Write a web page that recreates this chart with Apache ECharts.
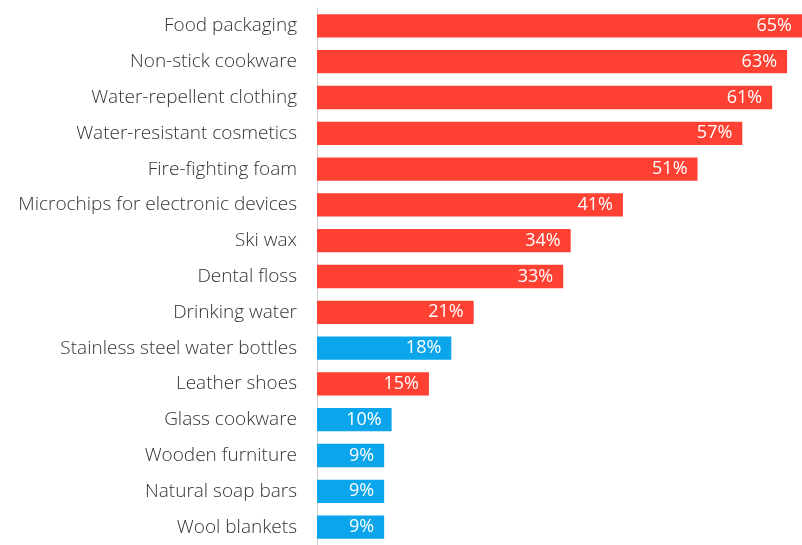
<!DOCTYPE html>
<html>
<head>
<meta charset="utf-8">
<style>
  html, body { margin: 0; padding: 0; background: #ffffff; }
  #chart { width: 802px; height: 545px; }
</style>
<script src="https://cdn.jsdelivr.net/npm/echarts@6/dist/echarts.min.js"></script>
</head>
<body>
<div id="chart"></div>
<script>
// Items people believe contain PFAS, share of respondents (%)
const categories = [
  'Food packaging',
  'Non-stick cookware',
  'Water-repellent clothing',
  'Water-resistant cosmetics',
  'Fire-fighting foam',
  'Microchips for electronic devices',
  'Ski wax',
  'Dental floss',
  'Drinking water',
  'Stainless steel water bottles',
  'Leather shoes',
  'Glass cookware',
  'Wooden furniture',
  'Natural soap bars',
  'Wool blankets'
];
const values = [65, 63, 61, 57, 51, 41, 34, 33, 21, 18, 15, 10, 9, 9, 9];
// true = item actually contains PFAS (red), false = it does not (blue)
const containsPfas = [true, true, true, true, true, true, true, true, true, false, true, false, false, false, false];

const RED = '#FF4133';
const BLUE = '#0BA5EC';

const chart = echarts.init(document.getElementById('chart'), null, { renderer: 'canvas' });

chart.setOption({
  animation: false,
  backgroundColor: '#ffffff',
  grid: { left: 317, top: 8, width: 491, height: 540, containLabel: false },
  xAxis: {
    type: 'value',
    min: 0,
    max: 65,
    show: false
  },
  yAxis: {
    type: 'category',
    data: categories,
    inverse: true,
    axisLine: { show: true, lineStyle: { color: '#d0d0d0', width: 1 } },
    axisTick: { show: false },
    axisLabel: {
      margin: 20,
      color: '#333333',
      fontSize: 19,
      fontFamily: 'Open Sans',
      fontWeight: 300
    }
  },
  series: [{
    type: 'bar',
    barWidth: '65%',
    data: values.map((v, i) => ({
      value: v,
      itemStyle: { color: containsPfas[i] ? RED : BLUE }
    })),
    label: {
      show: true,
      position: 'insideRight',
      distance: 10,
      color: '#ffffff',
      fontSize: 18,
      fontFamily: 'Open Sans',
      fontWeight: 400,
      formatter: p => p.value + '%'
    }
  }]
});
</script>
</body>
</html>
